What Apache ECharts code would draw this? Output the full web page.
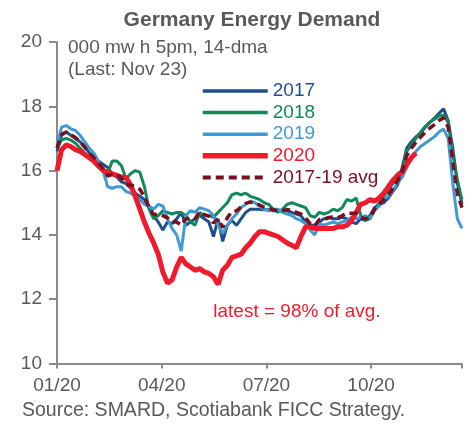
<!DOCTYPE html>
<html><head><meta charset="utf-8">
<script src="https://cdn.jsdelivr.net/npm/echarts@6/dist/echarts.min.js"></script>
<style>html,body{margin:0;padding:0;background:#fff}#c{width:473px;height:424px}</style>
</head><body><div id="c"></div>
<script>
// day of year (0 = Jan 1)
const days = [
  0,4,8,12,16,20,24,28,32,36,
  40,44,48,52,56,60,64,68,72,76,
  80,84,88,92,96,100,104,108,112,116,
  120,124,128,132,136,140,144,148,152,156,
  160,164,168,172,176,180,184,188,192,196,
  200,204,208,212,216,220,224,228,232,236,
  240,244,248,252,256,260,264,268,272,276,
  280,284,288,292,296,300,304,308,312,316,
  320,324,328,332,336,340,344,348,352
];
const y2017 = [
  16.6,17.1,17.2,17.1,17.0,16.9,16.75,16.55,16.4,16.3,
  16.2,16.1,15.9,15.8,15.65,15.6,15.45,15.3,15.2,15.1,
  14.85,14.6,14.4,14.15,14.4,14.35,14.5,14.7,14.3,14.4,
  14.5,14.6,14.5,14.4,13.95,14.5,13.8,14.3,14.45,14.3,
  14.5,14.7,14.8,14.8,14.8,14.78,14.78,14.75,14.75,14.77,
  14.75,14.7,14.65,14.6,14.4,14.3,14.3,14.4,14.5,14.55,
  14.5,14.5,14.55,14.5,14.4,14.35,14.5,14.45,14.6,14.85,
  14.95,15.0,15.15,15.35,15.55,16.1,16.7,16.9,17.05,17.17,
  17.35,17.5,17.63,17.78,17.92,17.55,16.7,15.6,14.95
];
const y2018 = [
  16.7,16.95,17.0,16.95,16.85,16.7,16.55,16.4,16.25,16.1,
  16.0,15.9,16.3,16.3,16.15,15.75,15.9,16.0,15.95,15.5,
  14.8,14.5,14.6,14.75,14.7,14.65,14.7,14.7,14.6,14.4,
  14.3,14.7,14.6,14.6,14.55,14.7,14.85,15.0,15.25,15.3,
  15.25,15.3,15.2,15.15,15.1,15.0,14.95,14.8,14.7,14.8,
  14.95,15.0,14.95,14.9,14.85,14.6,14.55,14.7,14.65,14.7,
  14.8,14.75,14.85,15.1,15.05,15.15,14.6,14.45,14.5,14.8,
  15.0,15.2,15.4,15.6,15.9,16.0,16.6,16.8,17.0,17.2,
  17.37,17.5,17.6,17.7,17.72,17.5,16.5,15.7,15.1
];
const y2019 = [
  16.8,17.35,17.4,17.3,17.25,17.1,16.9,16.7,16.55,16.3,
  16.0,15.5,15.45,15.5,15.5,15.35,15.3,15.2,15.1,14.95,
  14.9,14.8,14.95,14.9,14.5,14.2,14.0,13.5,14.6,14.75,
  14.7,14.85,14.8,14.75,14.6,14.3,14.05,14.3,14.5,14.65,
  14.85,14.95,15.05,15.0,14.9,14.8,14.75,14.8,14.8,14.7,
  14.65,14.6,14.5,14.45,14.35,14.15,14.0,14.35,14.3,14.35,
  14.4,14.35,14.4,14.45,14.55,14.5,14.55,14.6,14.5,14.75,
  14.9,15.1,15.2,15.4,15.6,15.8,16.1,16.4,16.6,16.75,
  16.85,16.95,17.05,17.2,17.29,17.0,15.6,14.5,14.2
];
const y2020 = [
  16.0,16.65,16.8,16.75,16.65,16.6,16.5,16.4,16.3,16.15,
  16.0,15.95,15.9,15.85,15.8,15.78,15.55,15.2,14.8,14.4,
  14.05,13.75,13.4,12.85,12.5,12.6,13.0,13.3,13.1,13.0,
  12.9,12.95,12.85,12.8,12.7,12.46,12.9,13.05,13.3,13.35,
  13.4,13.6,13.75,13.95,14.1,14.1,14.05,14.0,13.95,13.85,
  13.75,13.68,13.6,13.95,14.25,14.25,14.2,14.2,14.2,14.2,
  14.2,14.25,14.25,14.3,14.45,14.7,14.95,15.0,15.1,15.05,
  15.15,15.3,15.5,15.7,15.85,15.95,16.2,16.4,16.55
];
const yAvg = [
  16.7,17.13,17.2,17.12,17.03,16.9,16.73,16.55,16.4,16.23,
  16.07,15.83,15.88,15.87,15.77,15.57,15.55,15.5,15.42,15.18,
  14.85,14.63,14.65,14.6,14.53,14.4,14.4,14.3,14.5,14.52,
  14.5,14.72,14.63,14.58,14.37,14.5,14.23,14.53,14.73,14.75,
  14.87,14.98,15.02,14.98,14.93,14.86,14.83,14.78,14.75,14.76,
  14.78,14.77,14.7,14.65,14.53,14.35,14.28,14.48,14.48,14.53,
  14.57,14.53,14.6,14.68,14.67,14.67,14.55,14.5,14.53,14.8,
  14.95,15.1,15.25,15.45,15.68,15.97,16.47,16.7,16.88,17.04,
  17.19,17.32,17.43,17.56,17.64,17.35,16.27,15.27,14.85
];
const seriesNames = ['2017','2018','2019','2020','2017-19 avg'];
const xTickLabels = {0:'01/20', 91:'04/20', 182:'07/20', 273:'10/20'};

const FONT = '"Liberation Sans", Arial, sans-serif';
const GREY = '#595959';
const colors = ['#1f4f8a','#12895b','#3f9ad4','#ef1b2d','#7a0f1f'];
const widths = [3,3,3,5,3.5];
const values = [y2017, y2018, y2019, y2020, yAvg];

const toPairs = arr => arr.map((v,i)=>[days[i], v]);

const chart = echarts.init(document.getElementById('c'), null, {renderer:'canvas'});
chart.setOption({
  animation: false,
  backgroundColor: '#fff',
  grid: {left:57, right:11, top:42, bottom:60.5, containLabel:false},
  xAxis: {
    type:'value', min:0, max:352, interval:91,
    axisLine:{show:true, lineStyle:{color:'#8a8a8a', width:2}},
    axisTick:{show:true, length:5, lineStyle:{color:'#8a8a8a', width:2}},
    splitLine:{show:false},
    axisLabel:{margin:13, color:GREY, fontSize:19, fontFamily:FONT,
      formatter: v => xTickLabels[v] || ''}
  },
  yAxis: {
    type:'value', min:10, max:20, interval:2,
    axisLine:{show:true, lineStyle:{color:'#8a8a8a', width:2}},
    axisTick:{show:true, length:8, lineStyle:{color:'#8a8a8a', width:2}},
    splitLine:{show:false},
    axisLabel:{margin:15, color:GREY, fontSize:19, fontFamily:FONT}
  },
  legend: {
    orient:'vertical', left:200, top:81.5, padding:0, itemWidth:65, itemHeight:12, itemGap:2.6,
    textStyle:{fontSize:19, fontFamily:FONT, lineHeight:19},
    itemStyle:{opacity:0},
    selectedMode:false,
    data: seriesNames.map((n,i)=>({name:n, textStyle:{color:colors[i]},
      itemStyle:{opacity:0},
      lineStyle:{width: i===3 ? 5.5 : (i===4 ? 4 : 3.5)}}))
  },
  series: seriesNames.map((n,i)=>({
    name:n, type:'line', data: toPairs(values[i]),
    symbol:'circle', showSymbol:false, smooth:false,
    lineStyle:{color:colors[i], width:widths[i], type: i===4 ? [8,5] : 'solid'},
    itemStyle:{color:colors[i]},
    emphasis:{disabled:true}, z: 2+i
  })),
  graphic: [
    {type:'text', x:252, y:20, style:{text:'Germany Energy Demand', font:'bold 21px '+FONT, fill:GREY, align:'center', verticalAlign:'middle'}},
    {type:'text', x:68, y:48, style:{text:'000 mw h 5pm, 14-dma', font:'19px '+FONT, fill:GREY, align:'left', verticalAlign:'middle'}},
    {type:'text', x:68, y:70, style:{text:'(Last: Nov 23)', font:'19px '+FONT, fill:GREY, align:'left', verticalAlign:'middle'}},
    {type:'text', x:297, y:312, style:{text:'latest = 98% of avg.', font:'19px '+FONT, fill:'#ef1b2d', align:'center', verticalAlign:'middle'}},
    {type:'text', x:22, y:411, style:{text:'Source: SMARD, Scotiabank FICC Strategy.', font:'19.5px '+FONT, fill:GREY, align:'left', verticalAlign:'middle'}}
  ]
});
</script>
</body></html>
